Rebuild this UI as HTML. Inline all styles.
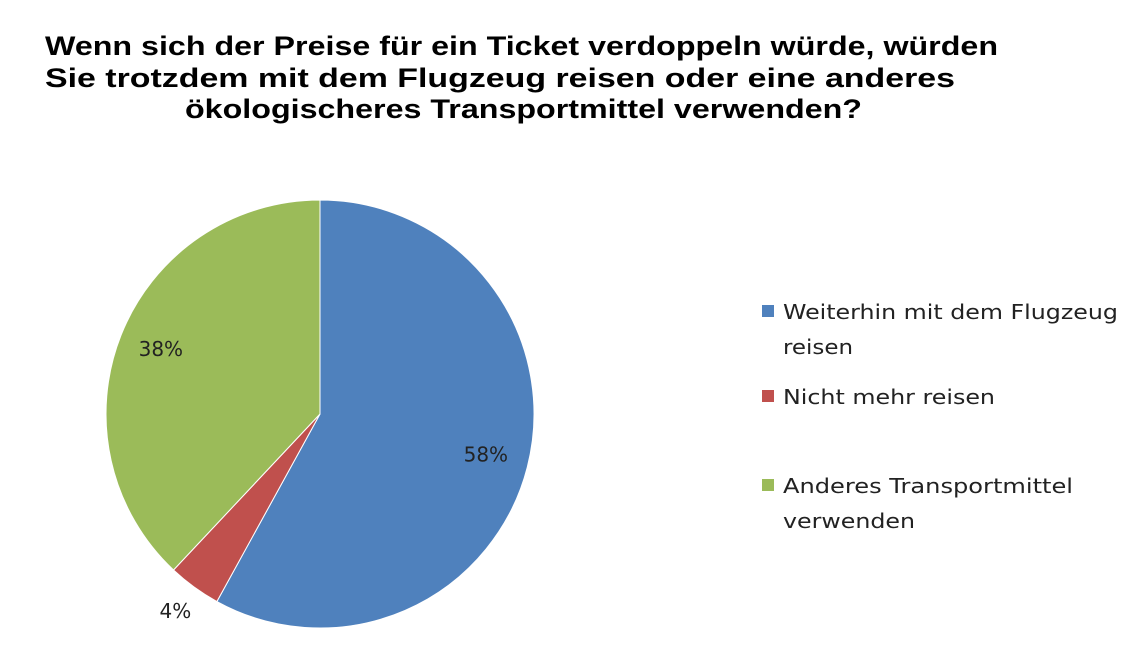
<!DOCTYPE html>
<html><head><meta charset="utf-8"><style>
body{margin:0;background:#fff;width:1135px;height:668px;overflow:hidden;}
svg{display:block}
</style></head><body>
<svg width="1135" height="668">
<g id="title" font-family="Liberation Sans, sans-serif" font-weight="bold" font-size="27" fill="#000">
<text x="45" y="55" textLength="953" lengthAdjust="spacingAndGlyphs">Wenn sich der Preise für ein Ticket verdoppeln würde, würden</text>
<text x="45" y="87" textLength="910" lengthAdjust="spacingAndGlyphs">Sie trotzdem mit dem Flugzeug reisen oder eine anderes</text>
<text x="185" y="118" textLength="677" lengthAdjust="spacingAndGlyphs">ökologischeres Transportmittel verwenden?</text>
</g>
<g id="slices"></g>
<g id="labels" font-family="DejaVu Sans, sans-serif" font-size="20" fill="#222"></g>
<g id="legend" font-family="DejaVu Sans, sans-serif" font-size="20" fill="#222"></g>
</svg>
<script>
const categories=["Weiterhin mit dem Flugzeug reisen","Nicht mehr reisen","Anderes Transportmittel verwenden"];
const values=[58,4,38];
const labels=["58%","4%","38%"];
const colors=["#4f81bd","#c0504d","#9bbb59"];
const legendLines=[["Weiterhin mit dem Flugzeug","reisen"],["Nicht mehr reisen"],["Anderes Transportmittel","verwenden"]];
const legendWidths=[[335,70],[212],[290,132]];
const NS="http://www.w3.org/2000/svg";
const cx=320,cy=414,r=214;
const total=values.reduce((a,b)=>a+b,0);
function pt(a,rr){return [cx+rr*Math.sin(a),cy-rr*Math.cos(a)];}
const sg=document.getElementById('slices'),lg=document.getElementById('labels'),leg=document.getElementById('legend');
let a0=0;
values.forEach((v,i)=>{
 const a1=a0+v/total*2*Math.PI;
 const [x0,y0]=pt(a0,r),[x1,y1]=pt(a1,r);
 const p=document.createElementNS(NS,'path');
 p.setAttribute('d',`M${cx},${cy}L${x0},${y0}A${r},${r} 0 ${a1-a0>Math.PI?1:0} 1 ${x1},${y1}Z`);
 p.setAttribute('fill',colors[i]);p.setAttribute('stroke','#fff');p.setAttribute('stroke-width','1');
 
 
 sg.appendChild(p);
 const mid=(a0+a1)/2;
 let [lx,ly]=v<10?pt(mid,r+32):pt(mid,r*0.8);
 const t=document.createElementNS(NS,'text');
 t.setAttribute('x',lx);t.setAttribute('y',ly+5);t.setAttribute('text-anchor','middle');
 t.textContent=labels[i];
 
 
 lg.appendChild(t);
 a0=a1;
});
const ly0=[312,397,486];
legendLines.forEach((lines,i)=>{
 const g=document.createElementNS(NS,'g');
 
 
 const s=document.createElementNS(NS,'rect');
 s.setAttribute('x',762);s.setAttribute('y',ly0[i]-7);s.setAttribute('width',12);s.setAttribute('height',12);s.setAttribute('fill',colors[i]);
 g.appendChild(s);
 lines.forEach((ln,j)=>{
  const t=document.createElementNS(NS,'text');
  t.setAttribute('x',783);t.setAttribute('y',ly0[i]+7+j*35);t.textContent=ln;
  t.setAttribute('textLength',legendWidths[i][j]);
  t.setAttribute('lengthAdjust','spacingAndGlyphs');
  g.appendChild(t);
 });
 leg.appendChild(g);
});
</script>
</body></html>
